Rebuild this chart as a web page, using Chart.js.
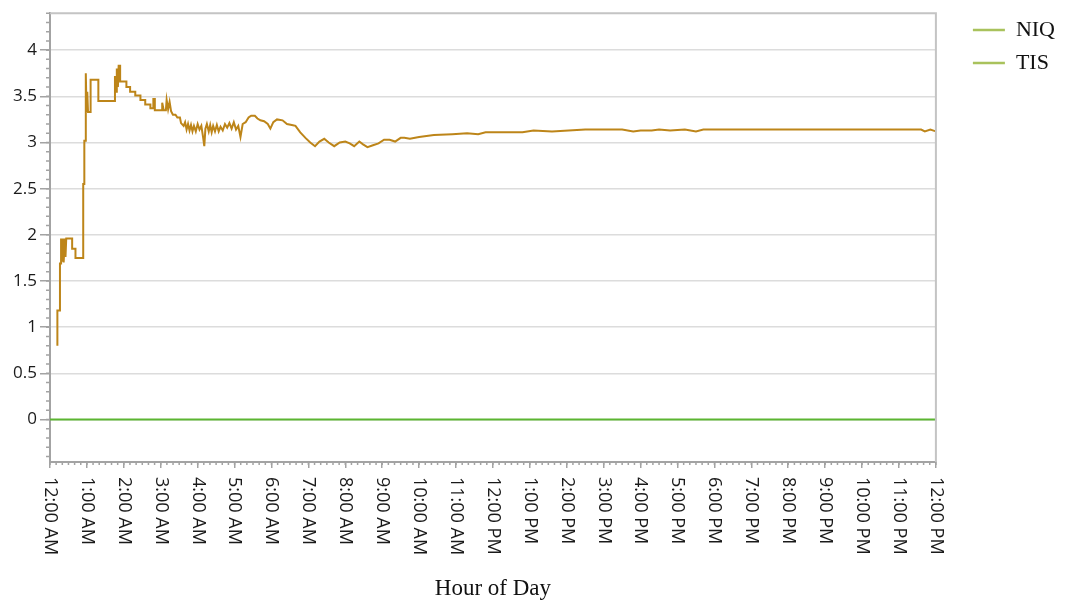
<!DOCTYPE html>
<html>
<head>
<meta charset="utf-8">
<script src="https://cdn.jsdelivr.net/npm/chart.js@4"></script>
<style>
  body { margin: 0; background: #fff; }
  canvas { display: block; }
</style>
</head>
<body>
<canvas id="myChart" width="1065" height="604"></canvas>
<script>
// tick labels along the bottom, one per hour (0..24)
const hourLabels = [
  "12:00 AM", "1:00 AM", "2:00 AM", "3:00 AM", "4:00 AM", "5:00 AM", "6:00 AM",
  "7:00 AM", "8:00 AM", "9:00 AM", "10:00 AM", "11:00 AM", "12:00 PM",
  "1:00 PM", "2:00 PM", "3:00 PM", "4:00 PM", "5:00 PM", "6:00 PM",
  "7:00 PM", "8:00 PM", "9:00 PM", "10:00 PM", "11:00 PM", "12:00 PM"
];
const yTicks = [0, 0.5, 1, 1.5, 2, 2.5, 3, 3.5, 4];

// NIQ, hours since midnight / value
const niqHours = [
  0.20, 0.20, 0.27, 0.27, 0.30, 0.30, 0.33, 0.35, 0.37, 0.40, 0.42, 0.44, 0.60, 0.60, 0.69, 0.69,
  0.90, 0.90, 0.93, 0.93, 0.97, 0.97, 0.99, 1.01, 1.03, 1.10, 1.10, 1.31, 1.31, 1.76, 1.76, 1.79,
  1.81, 1.84, 1.86, 1.90, 1.90, 2.07, 2.07, 2.17, 2.17, 2.31, 2.31, 2.45, 2.45, 2.58, 2.58, 2.72,
  2.72, 2.80, 2.80, 2.84, 2.84, 3.04, 3.04, 3.08, 3.14, 3.16, 3.20, 3.24, 3.28, 3.33, 3.40, 3.45,
  3.52, 3.55, 3.62, 3.66, 3.70, 3.74, 3.78, 3.82, 3.86, 3.90, 3.95, 4.00, 4.05, 4.10, 4.15, 4.18,
  4.21, 4.25, 4.30, 4.34, 4.38, 4.42, 4.47, 4.52, 4.57, 4.62, 4.68, 4.74, 4.80, 4.86, 4.92, 4.98,
  5.04, 5.10, 5.16, 5.22, 5.30, 5.38, 5.45, 5.55, 5.62, 5.70, 5.80, 5.90, 5.97, 6.05, 6.15, 6.30,
  6.42, 6.55, 6.65, 6.78, 6.92, 7.05, 7.18, 7.30, 7.43, 7.55, 7.70, 7.85, 8.00, 8.12, 8.24, 8.38,
  8.48, 8.60, 8.75, 8.90, 9.05, 9.20, 9.35, 9.50, 9.60, 9.75, 10.00, 10.40, 10.90, 11.30, 11.60, 11.80,
  12.30, 12.80, 13.10, 13.60, 14.50, 15.50, 15.80, 16.00, 16.30, 16.50, 16.80, 17.20, 17.50, 17.70, 19.00, 21.00,
  23.60, 23.70, 23.85, 24.00
];
const niqValues = [
  0.80, 1.18, 1.18, 1.69, 1.69, 1.96, 1.72, 1.96, 1.70, 1.96, 1.76, 1.96, 1.96, 1.85, 1.85, 1.75,
  1.75, 2.55, 2.55, 3.02, 3.02, 3.75, 3.33, 3.55, 3.33, 3.33, 3.68, 3.68, 3.45, 3.45, 3.72, 3.55,
  3.80, 3.60, 3.83, 3.83, 3.66, 3.66, 3.60, 3.60, 3.55, 3.55, 3.51, 3.51, 3.46, 3.46, 3.41, 3.41,
  3.37, 3.37, 3.47, 3.47, 3.35, 3.35, 3.43, 3.35, 3.35, 3.46, 3.36, 3.44, 3.34, 3.30, 3.30, 3.27,
  3.27, 3.21, 3.18, 3.22, 3.14, 3.20, 3.13, 3.19, 3.12, 3.18, 3.12, 3.20, 3.14, 3.18, 3.05, 2.96,
  3.15, 3.20, 3.12, 3.19, 3.11, 3.18, 3.12, 3.19, 3.12, 3.17, 3.13, 3.20, 3.16, 3.21, 3.15, 3.22,
  3.14, 3.18, 3.06, 3.20, 3.22, 3.27, 3.29, 3.29, 3.26, 3.24, 3.23, 3.20, 3.15, 3.22, 3.25, 3.24,
  3.20, 3.19, 3.18, 3.11, 3.05, 3.00, 2.96, 3.01, 3.04, 3.00, 2.96, 3.00, 3.01, 2.99, 2.96, 3.01,
  2.98, 2.95, 2.97, 2.99, 3.03, 3.03, 3.01, 3.05, 3.05, 3.04, 3.06, 3.08, 3.09, 3.10, 3.09, 3.11,
  3.11, 3.11, 3.13, 3.12, 3.14, 3.14, 3.12, 3.13, 3.13, 3.14, 3.13, 3.14, 3.12, 3.14, 3.14, 3.14,
  3.14, 3.12, 3.14, 3.12
];

// TIS sits flat on zero all day
const tisHours = [0, 24];
const tisValues = [0, 0];

const tickFont = { family: "'Open Sans', sans-serif", size: 17 };
const serifFont = "'Liberation Serif', 'Times New Roman', serif";
const axisGray = "#a3a3a3";

// minor ticks, frame and the clockwise hour labels
const axisExtras = {
  id: "axisExtras",
  afterDraw(chart) {
    const ctx = chart.ctx;
    const area = chart.chartArea;
    const x = chart.scales.x;
    const y = chart.scales.y;
    ctx.save();

    ctx.strokeStyle = "#c4c4c4";
    ctx.lineWidth = 2;
    ctx.beginPath();
    ctx.moveTo(area.left, area.top);
    ctx.lineTo(area.right, area.top);
    ctx.lineTo(area.right, area.bottom);
    ctx.stroke();

    ctx.strokeStyle = axisGray;
    ctx.lineWidth = 1.5;
    ctx.beginPath();
    for (let m = 0; m <= 24 * 6; m++) {
      const px = x.getPixelForValue(m / 6);
      ctx.moveTo(px, area.bottom);
      ctx.lineTo(px, area.bottom + 3);
    }
    for (let k = -4; k <= 44; k++) {
      const py = y.getPixelForValue(k / 10);
      if (py < area.top || py > area.bottom) continue;
      ctx.moveTo(area.left, py);
      ctx.lineTo(area.left - 4, py);
    }
    ctx.stroke();

    ctx.fillStyle = "#1a1a1a";
    ctx.font = "18px " + tickFont.family;
    ctx.textAlign = "left";
    ctx.textBaseline = "middle";
    x.ticks.forEach((t, i) => {
      const px = x.getPixelForValue(t.value);
      ctx.save();
      ctx.translate(px, area.bottom + 15);
      ctx.rotate(Math.PI / 2);
      ctx.fillText(hourLabels[i], 0, 0);
      ctx.restore();
    });
    ctx.restore();
  }
};

const ctx = document.getElementById("myChart").getContext("2d");
new Chart(ctx, {
  type: "line",
  data: {
    datasets: [
      {
        label: "NIQ",
        data: niqHours.map((h, i) => ({ x: h, y: niqValues[i] })),
        borderColor: "#bd8519",
        borderWidth: 2,
        pointRadius: 0,
        tension: 0
      },
      {
        label: "TIS",
        data: tisHours.map((h, i) => ({ x: h, y: tisValues[i] })),
        borderColor: "#5cb532",
        borderWidth: 2,
        pointRadius: 0
      }
    ]
  },
  options: {
    responsive: false,
    animation: false,
    layout: { padding: { top: 8, left: 0, right: 0, bottom: 0 } },
    plugins: {
      tooltip: { enabled: false },
      legend: {
        position: "right",
        align: "start",
        labels: {
          usePointStyle: true,
          pointStyleWidth: 32,
          padding: 11,
          color: "#111",
          font: { family: serifFont, size: 22 },
          generateLabels: (chart) =>
            Chart.defaults.plugins.legend.labels.generateLabels(chart).map((item) => ({
              ...item,
              pointStyle: "line",
              strokeStyle: "#a9c25c",
              fillStyle: "#a9c25c",
              lineWidth: 2.5
            }))
        }
      }
    },
    scales: {
      x: {
        type: "linear",
        min: 0,
        max: 24,
        afterBuildTicks: (scale) => {
          scale.ticks = hourLabels.map((_, i) => ({ value: i }));
        },
        afterFit: (scale) => {
          scale.height = 142;
        },
        ticks: { display: false },
        grid: { drawOnChartArea: false, tickLength: 6, color: axisGray, lineWidth: 1.5 },
        border: { color: axisGray, width: 2 },
        title: {
          display: true,
          text: "Hour of Day",
          color: "#111",
          font: { family: serifFont, size: 23 },
          padding: { top: 4, bottom: 1 }
        }
      },
      y: {
        min: -0.46,
        max: 4.4,
        afterBuildTicks: (scale) => {
          scale.ticks = yTicks.map((v) => ({ value: v }));
        },
        afterFit: (scale) => {
          scale.width = 50;
        },
        ticks: {
          color: "#1a1a1a",
          font: tickFont,
          padding: 3,
          callback: (v) => String(v)
        },
        grid: { color: "#dcdcdc", lineWidth: 1.5, tickLength: 10, tickColor: axisGray },
        border: { color: axisGray, width: 2 }
      },
      spacer: {
        position: "right",
        grid: { display: false },
        ticks: { display: false },
        border: { display: false },
        afterFit: (scale) => {
          scale.width = 26;
        }
      }
    }
  },
  plugins: [axisExtras]
});
</script>
</body>
</html>
